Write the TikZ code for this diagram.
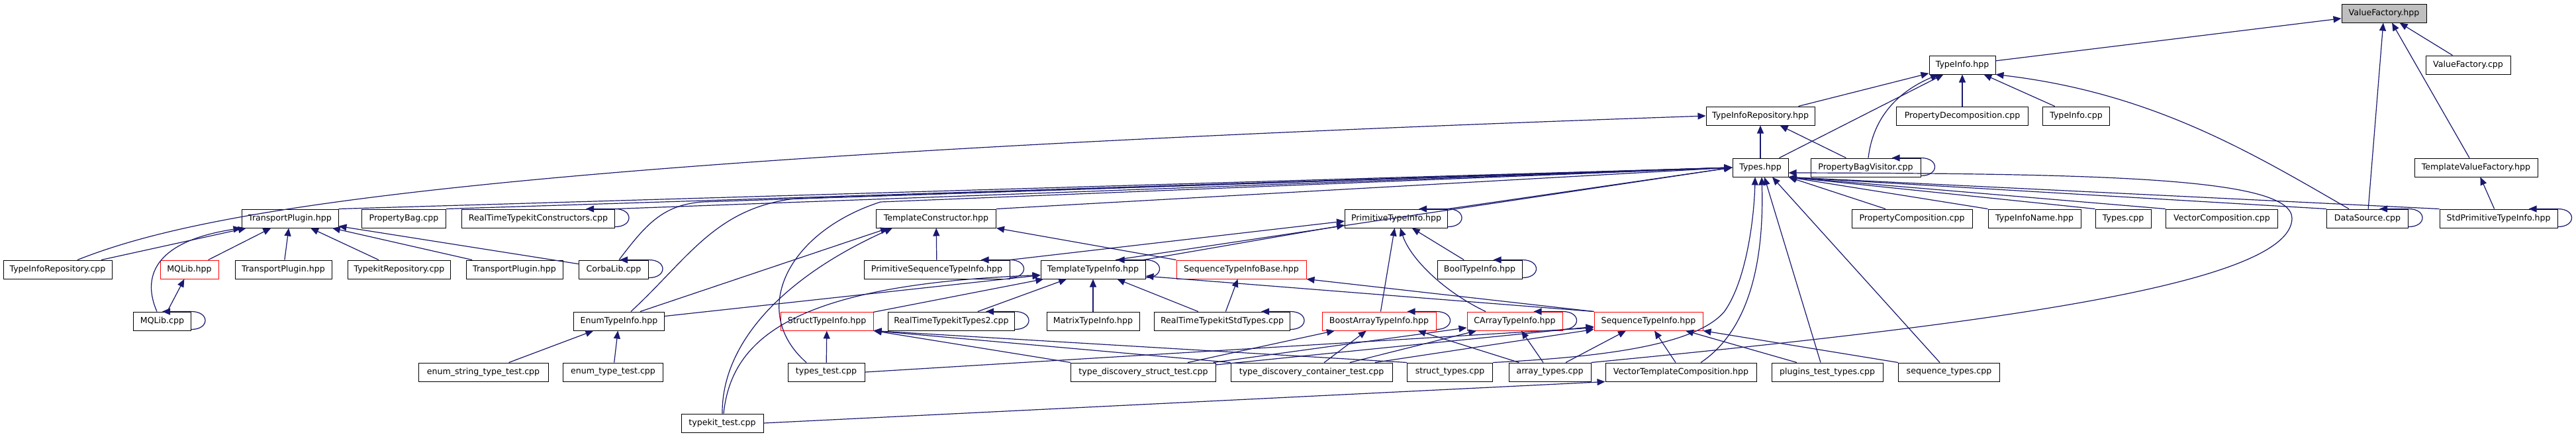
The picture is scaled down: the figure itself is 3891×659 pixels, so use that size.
\documentclass[tikz,border=0pt]{standalone}
\usepackage{fontspec}
\setmainfont{DejaVu Sans}
\usepackage{tikz}
\usetikzlibrary{arrows.meta}
\definecolor{edgeblue}{HTML}{191970}

\begin{document}
\begin{tikzpicture}[x=0.5pt, y=-0.5pt,
            file/.style={draw=black, fill=white, line width=0.5pt, minimum height=14pt, inner sep=0pt, font=\fontsize{6.3}{7}\selectfont},
            hot/.style={file, draw=red},
            root/.style={file, fill=black!25},
            edge/.style={draw=edgeblue, line width=0.6pt, ->},
            >={Triangle[length=6pt,width=5pt]}]
            \path[use as bounding box, fill=white] (0,0) rectangle (3891,659);

            \node[root, minimum width=64pt] (vfHpp) at (3601,20) {ValueFactory.hpp};
            \node[file, minimum width=50pt] (tiHpp) at (2964,98) {TypeInfo.hpp};
            \node[file, minimum width=64pt] (vfCpp) at (3728,98) {ValueFactory.cpp};
            \node[file, minimum width=82pt] (tirHpp) at (2659,175) {TypeInfoRepository.hpp};
            \node[file, minimum width=99.5pt] (pdCpp) at (2964,175) {PropertyDecomposition.cpp};
            \node[file, minimum width=50.5pt] (tiCpp) at (3136,175) {TypeInfo.cpp};
            \node[file, minimum width=42pt] (typesHpp) at (2659,253) {Types.hpp};
            \node[file, minimum width=83pt] (pbvCpp) at (2818,253) {PropertyBagVisitor.cpp};
            \node[file, minimum width=93pt] (tvfHpp) at (3740,253) {TemplateValueFactory.hpp};

            \node[file, minimum width=73pt] (tpHpp) at (438,330) {TransportPlugin.hpp};
            \node[file, minimum width=63.5pt] (pbCpp) at (610,330) {PropertyBag.cpp};
            \node[file, minimum width=115.5pt] (rtkcCpp) at (813,330) {RealTimeTypekitConstructors.cpp};
            \node[file, minimum width=90.5pt] (tcHpp) at (1414,330) {TemplateConstructor.hpp};
            \node[file, minimum width=77.5pt] (ptiHpp) at (2109,330) {PrimitiveTypeInfo.hpp};
            \node[file, minimum width=91pt] (pcCpp) at (2888,330) {PropertyComposition.cpp};
            \node[file, minimum width=70pt] (tinHpp) at (3073,330) {TypeInfoName.hpp};
            \node[file, minimum width=42pt] (typesCpp) at (3207,330) {Types.cpp};
            \node[file, minimum width=84.5pt] (vcCpp) at (3356,330) {VectorComposition.cpp};
            \node[file, minimum width=61.5pt] (dsCpp) at (3576,330) {DataSource.cpp};
            \node[file, minimum width=89pt] (sptiHpp) at (3774,330) {StdPrimitiveTypeInfo.hpp};

            \node[file, minimum width=82pt] (tirCpp) at (87,407) {TypeInfoRepository.cpp};
            \node[hot, minimum width=44pt] (mqHpp) at (286,407) {MQLib.hpp};
            \node[file, minimum width=73pt] (tpHppB) at (428,407) {TransportPlugin.hpp};
            \node[file, minimum width=77.5pt] (tkrCpp) at (603,407) {TypekitRepository.cpp};
            \node[file, minimum width=73pt] (tpHppC) at (777,407) {TransportPlugin.hpp};
            \node[file, minimum width=52.5pt] (clCpp) at (927,407) {CorbaLib.cpp};
            \node[file, minimum width=110pt] (pstiHpp) at (1415,407) {PrimitiveSequenceTypeInfo.hpp};
            \node[file, minimum width=79pt] (ttiHpp) at (1651,407) {TemplateTypeInfo.hpp};
            \node[hot, minimum width=98pt] (stibHpp) at (1875,407) {SequenceTypeInfoBase.hpp};
            \node[file, minimum width=64pt] (btiHpp) at (2235,407) {BoolTypeInfo.hpp};

            \node[file, minimum width=43.5pt] (mqCpp) at (245,485) {MQLib.cpp};
            \node[file, minimum width=68.5pt] (etiHpp) at (935,485) {EnumTypeInfo.hpp};
            \node[hot, minimum width=70pt] (stiHpp) at (1249,485) {StructTypeInfo.hpp};
            \node[file, minimum width=95.5pt] (rtkt2Cpp) at (1437,485) {RealTimeTypekitTypes2.cpp};
            \node[file, minimum width=70pt] (mtiHpp) at (1651,485) {MatrixTypeInfo.hpp};
            \node[file, minimum width=102.5pt] (rtksCpp) at (1846,485) {RealTimeTypekitStdTypes.cpp};
            \node[hot, minimum width=86pt] (batiHpp) at (2083,485) {BoostArrayTypeInfo.hpp};
            \node[hot, minimum width=72pt] (catiHpp) at (2288,485) {CArrayTypeInfo.hpp};
            \node[hot, minimum width=82pt] (seqtiHpp) at (2490,485) {SequenceTypeInfo.hpp};

            \node[file, minimum width=98pt] (estCpp) at (730,562) {enum\_string\_type\_test.cpp};
            \node[file, minimum width=75.5pt] (etCpp) at (926,562) {enum\_type\_test.cpp};
            \node[file, minimum width=58pt] (ttCpp) at (1248,562) {types\_test.cpp};
            \node[file, minimum width=109.5pt] (tdsCpp) at (1727,562) {type\_discovery\_struct\_test.cpp};
            \node[file, minimum width=122pt] (tdcCpp) at (1981,562) {type\_discovery\_container\_test.cpp};
            \node[file, minimum width=64.5pt] (stCpp) at (2190,562) {struct\_types.cpp};
            \node[file, minimum width=62pt] (atCpp) at (2341,562) {array\_types.cpp};
            \node[file, minimum width=114pt] (vtcHpp) at (2539,562) {VectorTemplateComposition.hpp};
            \node[file, minimum width=84pt] (pttCpp) at (2760,562) {plugins\_test\_types.cpp};
            \node[file, minimum width=76.5pt] (seqtCpp) at (2944,562) {sequence\_types.cpp};
            \node[file, minimum width=62pt] (tktCpp) at (1091,639) {typekit\_test.cpp};

            \draw[edge] (tiHpp) -- (vfHpp);
            \draw[edge] (vfCpp) -- (vfHpp);
            \draw[edge] (dsCpp) -- (vfHpp);
            \draw[edge] ([xshift=-5pt]tvfHpp.north) -- ([xshift=6pt]vfHpp.south);
            \draw[edge] (sptiHpp) -- (tvfHpp);

            \draw[edge] (tirHpp) -- (tiHpp);
            \draw[edge] (typesHpp) -- (tiHpp);
            \draw[edge] (pdCpp) -- (tiHpp);
            \draw[edge] (tiCpp) -- (tiHpp);
            \draw[edge] ([xshift=2pt]pbvCpp.north) .. controls (2830,170) and (2875,135) .. ([xshift=-18pt]tiHpp.south);
            \draw[edge] ([xshift=-14pt]dsCpp.north) .. controls (3400,230) and (3250,140) .. (tiHpp.south east);

            \draw[edge] (typesHpp) -- (tirHpp);
            \draw[edge] (pbvCpp) -- (tirHpp);
            \draw[edge] ([xshift=15pt]tirCpp.north) .. controls (300,320) and (700,240) .. (tirHpp.west);

            \foreach \n in {tpHpp,pbCpp,rtkcCpp,tcHpp,ptiHpp}
                \draw[edge] (\n.north east) -- (typesHpp.west);
            \draw[edge] ([xshift=17pt]ttiHpp.north) -- (typesHpp.west);
            \draw[edge] ([xshift=4pt]clCpp.north) .. controls (975,340) and (1000,310) .. (1060,305) -- (typesHpp.west);
            \draw[edge] ([xshift=9pt]etiHpp.north) .. controls (1040,390) and (1080,315) .. (1200,300) -- (typesHpp.west);
            \draw[edge] ([xshift=-15pt]ttCpp.north) .. controls (1130,470) and (1190,350) .. (1330,305) -- (typesHpp.west);
            \draw[edge] ([xshift=-20pt]pcCpp.north) -- (typesHpp.south east);
            \foreach \n in {tinHpp,typesCpp,vcCpp,dsCpp,sptiHpp}
                \draw[edge] (\n.north west) -- (typesHpp.south east);
            \draw[edge] (stCpp.north east) .. controls (2400,540) and (2560,525) .. (2605,470) .. controls (2640,420) and (2650,320) .. ([xshift=-4pt]typesHpp.south);
            \draw[edge] ([xshift=15pt]vtcHpp.north) .. controls (2640,500) and (2665,400) .. ([xshift=1pt]typesHpp.south);
            \draw[edge] ([xshift=-5pt]pttCpp.north) -- ([xshift=3pt]typesHpp.south);
            \draw[edge] ([xshift=-7pt]seqtCpp.north) -- ([xshift=9pt]typesHpp.south);
            \draw[edge] (atCpp.north east) .. controls (3000,490) and (3460,430) .. (3462,330) .. controls (3462,270) and (3200,262) .. ([yshift=-4pt]typesHpp.east);

            \draw[edge] (tirCpp) -- (tpHpp);
            \draw[edge] ([xshift=-4pt]mqCpp.north) .. controls (215,420) and (230,365) .. (tpHpp.south west);
            \foreach \n in {mqHpp,tpHppB,tkrCpp,tpHppC,clCpp}
                \draw[edge] (\n) -- (tpHpp);
            \draw[edge] (mqCpp) -- (mqHpp);

            \draw[edge] (pstiHpp) -- (tcHpp);
            \draw[edge] ([xshift=16pt]etiHpp.north) -- ([xshift=-36pt]tcHpp.south);
            \draw[edge] (tktCpp.north) .. controls (1090,520) and (1180,420) .. ([xshift=-33pt]tcHpp.south);
            \draw[edge] (stibHpp.north west) -- (tcHpp.south east);
            \draw[edge] ([xshift=1pt]tktCpp.north) .. controls (1105,510) and (1200,430) .. ([yshift=3pt]ttiHpp.south west);
            \draw[edge] (tktCpp.east) -- (vtcHpp.south west);

            \draw[edge] (pstiHpp.north east) -- ([yshift=-2pt]ptiHpp.west);
            \draw[edge] ([xshift=38pt]ttiHpp.north) -- ([yshift=-5pt]ptiHpp.west);
            \draw[edge] (btiHpp) -- (ptiHpp);
            \draw[edge] (batiHpp) -- (ptiHpp);
            \draw[edge] ([xshift=-22pt]catiHpp.north) .. controls (2180,440) and (2130,390) .. ([xshift=3pt]ptiHpp.south);

            \foreach \n in {etiHpp,stiHpp,rtkt2Cpp,mtiHpp,rtksCpp}
                \draw[edge] (\n) -- (ttiHpp);
            \draw[edge] (seqtiHpp.north west) -- ([yshift=-5pt]ttiHpp.east);
            \draw[edge] (seqtiHpp.north west) -- (stibHpp.south east);
            \draw[edge] (rtksCpp) -- (stibHpp);

            \draw[edge] (estCpp) -- (etiHpp);
            \draw[edge] (etCpp) -- (etiHpp);

            \draw[edge] (ttCpp) -- (stiHpp);
            \foreach \n in {tdsCpp,tdcCpp,stCpp}
                \draw[edge] (\n.north west) -- (stiHpp.south east);
            \foreach \n in {tdsCpp,tdcCpp}{
                \draw[edge] (\n) -- (batiHpp);
                \draw[edge] (\n) -- (catiHpp);
                \draw[edge] (\n) -- (seqtiHpp);
            }
            \draw[edge] (ttCpp.east) -- ([yshift=-5pt]seqtiHpp.west);
            \draw[edge] ([xshift=8pt]atCpp.north west) -- ([xshift=-14pt]batiHpp.south east);
            \draw[edge] ([xshift=-5pt]atCpp.north) -- ([xshift=5pt]catiHpp.south);
            \draw[edge] ([xshift=12pt]atCpp.north) -- ([xshift=-17pt]seqtiHpp.south);
            \draw[edge] ([xshift=-4pt]vtcHpp.north) -- ([xshift=4.5pt]seqtiHpp.south);
            \draw[edge] ([xshift=-23pt]pttCpp.north) -- ([xshift=28pt]seqtiHpp.south);
            \draw[edge] (seqtCpp.north west) -- (seqtiHpp.south east);

            \foreach \n in {pbvCpp,dsCpp,sptiHpp,rtkcCpp,clCpp,mqCpp,pstiHpp,ttiHpp,ptiHpp,btiHpp,rtkt2Cpp,rtksCpp,batiHpp,catiHpp}
                \draw[edge] ([yshift=1pt]\n.south east) .. controls +(14pt,0pt) and +(14pt,0pt) .. (\n.north east) -- ([xshift=-22pt]\n.north east);
        \end{tikzpicture}
\end{document}
